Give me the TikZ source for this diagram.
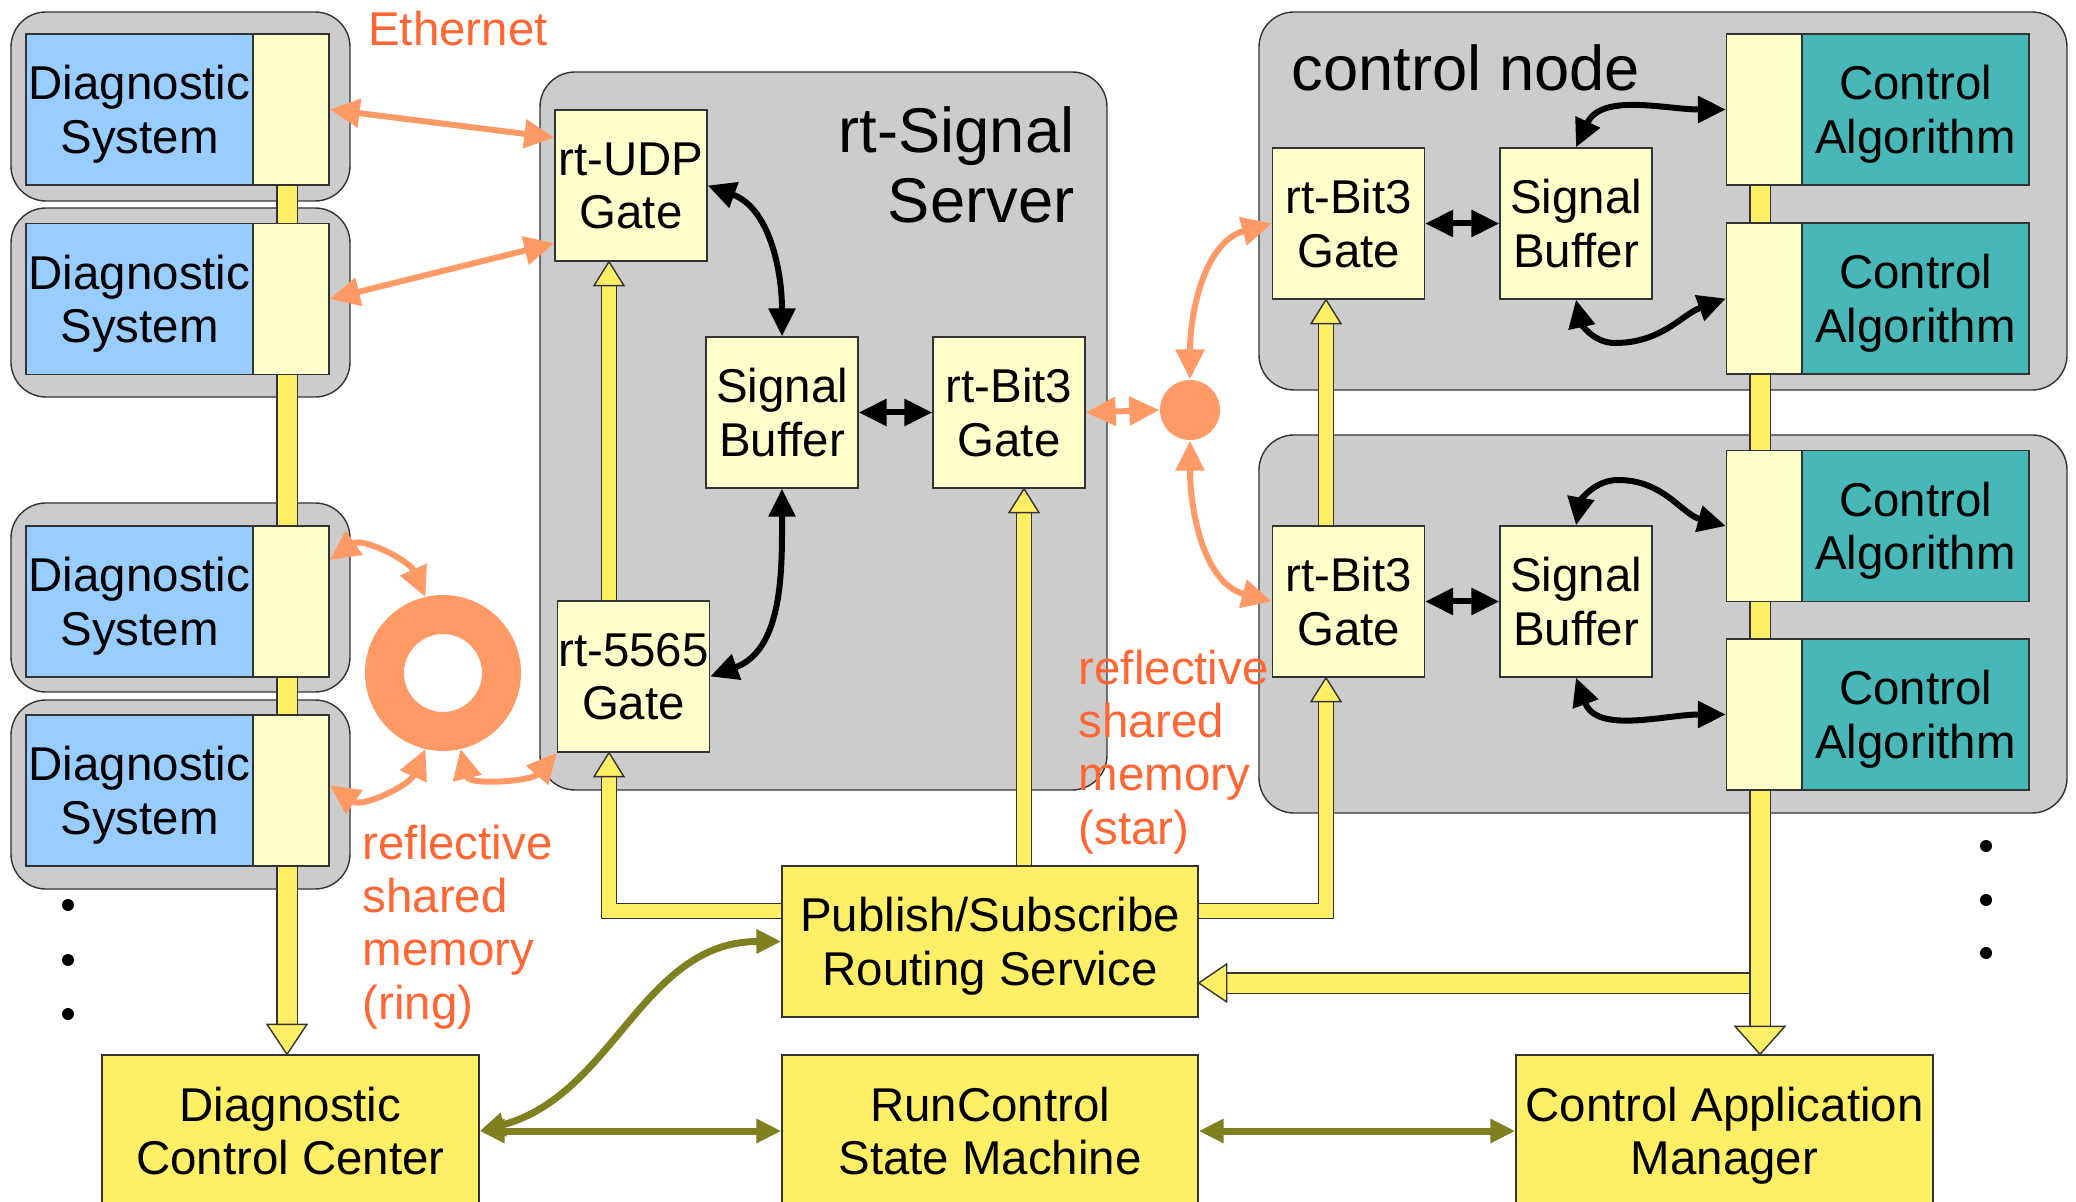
\documentclass[tikz,border=0pt]{standalone}
\usepackage{fontspec}
\setmainfont{Liberation Sans}
\usetikzlibrary{arrows.meta}
\pgfdeclarelayer{back}
\pgfdeclarelayer{mid}
\pgfsetlayers{back,mid,main}
\definecolor{boxgray}{HTML}{CCCCCC}
\definecolor{diagblue}{HTML}{99CCFF}
\definecolor{paleyel}{HTML}{FFFFCC}
\definecolor{busyel}{HTML}{FFEF66}
\definecolor{algteal}{HTML}{47B7B7}
\definecolor{ethorange}{HTML}{FF9966}
\definecolor{lblorange}{HTML}{FF6633}
\definecolor{ctrlolive}{HTML}{808020}
\definecolor{edge}{HTML}{333333}

\begin{document}
\begin{tikzpicture}[
  every node/.style={font=\fontsize{13.5}{15.2}\selectfont, align=center, inner sep=0pt},
  grp/.style={draw=edge, fill=boxgray, rounded corners=0.35cm},
  gate/.style={draw=edge, fill=paleyel, minimum width=1.52cm, minimum height=1.51cm, text depth=0pt},
  tab/.style={draw=edge, fill=paleyel, minimum width=0.76cm, minimum height=1.51cm},
  diag/.style={draw=edge, fill=diagblue, minimum width=2.27cm, minimum height=1.51cm, text depth=0pt},
  alg/.style={draw=edge, fill=algteal, minimum width=2.27cm, minimum height=1.51cm, text depth=0pt},
  sys/.style={draw=edge, fill=busyel, minimum height=1.51cm, text depth=0pt},
  lbl/.style={text=lblorange},
  bigtext/.style={font=\fontsize{18}{19.9}\selectfont},
  bus/.style={draw=edge, double=busyel, double distance=0.19cm},
  feed/.style={draw=edge, double=busyel, double distance=0.14cm},
  bushead/.style={draw=edge, fill=busyel},
  ether/.style={ethorange, line width=0.06cm, <->, >={Triangle[length=0.3cm,width=0.28cm]}},
  link/.style={black, line width=0.06cm, <->, >={Triangle[length=0.28cm,width=0.26cm]}},
  cmd/.style={ctrlolive, line width=0.07cm, <->, >={Triangle[length=0.25cm,width=0.23cm]}}
]
\useasboundingbox (0,0) rectangle (20.76,-12.02);

\begin{pgfonlayer}{back}
\node[grp, minimum width=3.39cm, minimum height=1.89cm] (dgA) at (1.805,-1.065) {};
\node[grp, minimum width=3.39cm, minimum height=1.89cm] (dgB) at (1.805,-3.025) {};
\node[grp, minimum width=3.39cm, minimum height=1.89cm] (dgC) at (1.805,-5.975) {};
\node[grp, minimum width=3.39cm, minimum height=1.89cm] (dgD) at (1.805,-7.945) {};
\node[grp, minimum width=5.67cm, minimum height=7.18cm] (srv) at (8.235,-4.31) {};
\node[grp, minimum width=8.08cm, minimum height=3.78cm] (cnA) at (16.63,-2.01) {};
\node[grp, minimum width=8.08cm, minimum height=3.78cm] (cnB) at (16.63,-6.24) {};
\end{pgfonlayer}

\node[diag] (dsA) at (1.395,-1.095) {Diagnostic\\System};
\node[tab] (tabA) at (2.91,-1.095) {};
\node[diag] (dsB) at (1.395,-2.99) {Diagnostic\\System};
\node[tab] (tabB) at (2.91,-2.99) {};
\node[diag] (dsC) at (1.395,-6.015) {Diagnostic\\System};
\node[tab] (tabC) at (2.91,-6.015) {};
\node[diag] (dsD) at (1.395,-7.905) {Diagnostic\\System};
\node[tab] (tabD) at (2.91,-7.905) {};

\node[gate] (udp) at (6.31,-1.855) {rt-UDP\\Gate};
\node[gate] (ssb) at (7.82,-4.125) {Signal\\Buffer};
\node[gate] (sbit) at (10.09,-4.125) {rt-Bit3\\Gate};
\node[gate] (g5565) at (6.335,-6.765) {rt-5565\\Gate};

\node[gate] (cbitA) at (13.485,-2.235) {rt-Bit3\\Gate};
\node[gate] (csbA) at (15.76,-2.235) {Signal\\Buffer};
\node[gate] (cbitB) at (13.485,-6.015) {rt-Bit3\\Gate};
\node[gate] (csbB) at (15.76,-6.015) {Signal\\Buffer};

\node[tab] (catA) at (17.645,-1.095) {};
\node[alg] (calA) at (19.155,-1.095) {Control\\Algorithm};
\node[tab] (catB) at (17.645,-2.985) {};
\node[alg] (calB) at (19.155,-2.985) {Control\\Algorithm};
\node[tab] (catC) at (17.645,-5.26) {};
\node[alg] (calC) at (19.155,-5.26) {Control\\Algorithm};
\node[tab] (catD) at (17.645,-7.145) {};
\node[alg] (calD) at (19.155,-7.145) {Control\\Algorithm};

\node[sys, minimum width=4.16cm] (psrs) at (9.90,-9.415) {Publish/Subscribe\\Routing Service};
\node[sys, minimum width=4.16cm, minimum height=1.52cm] (runc) at (9.90,-11.31) {RunControl\\State Machine};
\node[sys, minimum width=3.77cm, minimum height=1.52cm] (dcc) at (2.905,-11.31) {Diagnostic\\Control Center};
\node[sys, minimum width=4.17cm, minimum height=1.52cm] (cam) at (17.245,-11.31) {Control Application\\Manager};

\node[circle, draw=ethorange, line width=0.39cm, minimum size=1.17cm] (ring) at (4.43,-6.73) {};
\node[circle, fill=ethorange, minimum size=0.6cm] (star) at (11.90,-4.10) {};

\node[lbl] (eth) at (4.58,-0.29) {Ethernet};
\node[lbl, anchor=west, align=left] (ringlbl) at (3.62,-9.27) {reflective\\shared\\memory\\(ring)};
\node[lbl, anchor=west, align=left] (starlbl) at (10.78,-7.52) {reflective\\shared\\memory\\(star)};
\node[bigtext, anchor=east, align=right] (srvlbl) at (10.75,-1.65) {rt-Signal\\Server};
\node[bigtext, anchor=west] (cnlbl) at (12.91,-0.68) {control node};

\coordinate (lbus) at (2.87,-1.85);
\coordinate (rbus) at (17.60,-1.85);
\coordinate (rbr) at (17.60,-9.83);
\coordinate (fA) at (6.09,-9.11);
\coordinate (fB) at (10.24,-8.66);
\coordinate (fC) at (13.26,-9.11);

\begin{pgfonlayer}{mid}
\draw[bus, shorten >=0.30cm] (lbus) -- (dcc.north -| lbus);
\draw[bus, shorten >=0.28cm] (rbr) -- (psrs.east |- rbr);
\draw[bus, shorten >=0.28cm] (rbus) -- (cam.north -| rbus);
\draw[feed, shorten >=0.24cm] (g5565.north -| fA) -- (udp.south -| fA);
\draw[feed, shorten >=0.24cm] (psrs.west |- fA) -| (g5565.south -| fA);
\draw[feed, shorten >=0.24cm] (psrs.north -| fB) -- (sbit.south -| fB);
\draw[feed, shorten >=0.24cm] (psrs.east |- fC) -| (cbitB.south -| fC);
\draw[feed, shorten >=0.24cm] (cbitB.north -| fC) -- (cbitA.south -| fC);
\end{pgfonlayer}

\filldraw[bushead] (dcc.north -| lbus) -- ++(0.20,0.30) -- ++(-0.40,0) -- cycle;
\filldraw[bushead] (cam.north -| rbus) -- ++(0.25,0.28) -- ++(-0.50,0) -- cycle;
\filldraw[bushead] (psrs.east |- rbr) -- ++(0.28,0.19) -- ++(0,-0.38) -- cycle;
\filldraw[bushead] (udp.south -| fA) -- ++(0.15,-0.24) -- ++(-0.30,0) -- cycle;
\filldraw[bushead] (g5565.south -| fA) -- ++(0.15,-0.24) -- ++(-0.30,0) -- cycle;
\filldraw[bushead] (sbit.south -| fB) -- ++(0.15,-0.24) -- ++(-0.30,0) -- cycle;
\filldraw[bushead] (cbitB.south -| fC) -- ++(0.15,-0.24) -- ++(-0.30,0) -- cycle;
\filldraw[bushead] (cbitA.south -| fC) -- ++(0.15,-0.24) -- ++(-0.30,0) -- cycle;

\draw[ether] (tabA.east) -- (udp.148);
\draw[ether] (tabB.east) -- (udp.217);
\draw[ether] (tabC.47) to[out=35,in=114] (ring.103);
\draw[ether] (tabD.8) to[out=-35,in=-114] (ring.-103);
\draw[ether] (ring.-77) to[out=-77,in=-131] (g5565.south west);
\draw[ether] (sbit.east) -- (star.west);
\draw[ether] (star.north) to[out=90,in=195] (cbitA.west);
\draw[ether] (star.south) to[out=-90,in=165] (cbitB.west);

\draw[link] (udp.east) to[out=-20,in=90] (ssb.north);
\draw[link] (ssb.south) to[out=-90,in=20] (g5565.east);
\draw[link] (ssb.east) -- (sbit.west);
\draw[link] (cbitA.east) -- (csbA.west);
\draw[link] (csbA.north) to[out=65,in=180] (catA.west);
\draw[link] (csbA.south) to[out=-78,in=180] (16.15,-3.43) to[out=0,in=200] (catB.west);
\draw[link] (cbitB.east) -- (csbB.west);
\draw[link] (csbB.north) to[out=80,in=180] (16.18,-4.80) to[out=0,in=165] (catC.west);
\draw[link] (csbB.south) to[out=-70,in=180] (catD.west);

\draw[cmd] (dcc.east) -- (runc.west);
\draw[cmd] (runc.east) -- (cam.west);
\draw[cmd] (dcc.east) to[out=15,in=180] (psrs.west);

\fill (0.68,-9.05) circle (0.06);
\fill (0.68,-9.60) circle (0.06);
\fill (0.68,-10.14) circle (0.06);
\fill (19.86,-8.46) circle (0.06);
\fill (19.86,-9.00) circle (0.06);
\fill (19.86,-9.53) circle (0.06);
\end{tikzpicture}
\end{document}
